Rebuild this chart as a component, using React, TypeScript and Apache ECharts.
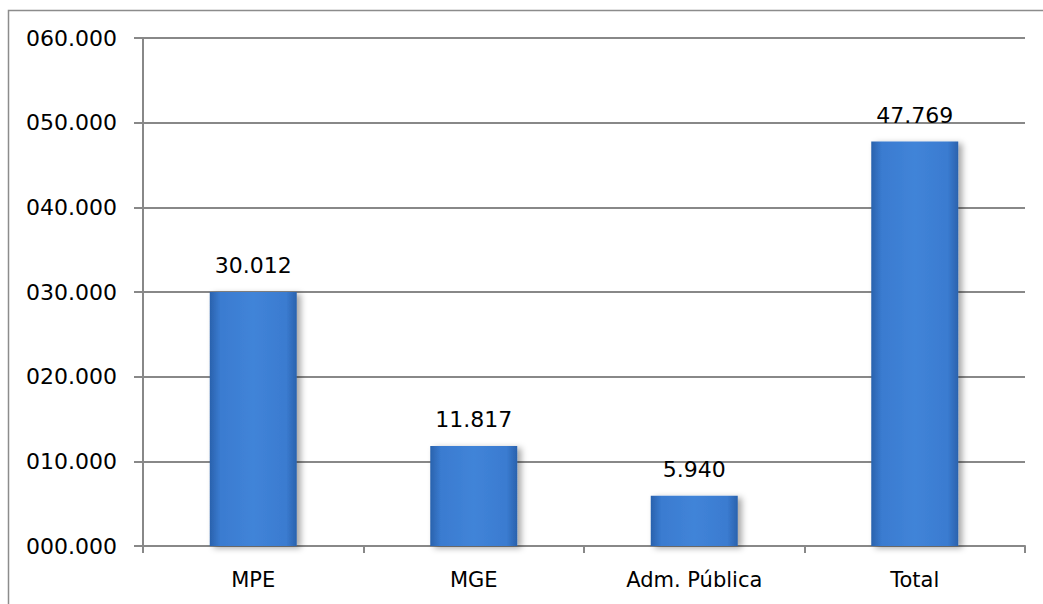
import React, { useEffect, useRef } from "react";
import * as echarts from "echarts";

const categories = ["MPE", "MGE", "Adm. Pública", "Total"];
const values = [30012, 11817, 5940, 47769];
const valueLabels = ["30.012", "11.817", "5.940", "47.769"];
const yTicks = [0, 10000, 20000, 30000, 40000, 50000, 60000];

const FONT = "DejaVu Sans";

export default function App() {
  const ref = useRef<HTMLDivElement>(null);
  useEffect(() => {
    document.body.style.margin = "0";
    const chart = echarts.init(ref.current!, null, { renderer: "svg" });
    chart.setOption({
      animation: false,
      backgroundColor: "#ffffff",
      graphic: [
        {
          type: "rect",
          shape: { x: 8.5, y: 10.5, width: 1100, height: 700 },
          style: { fill: "none", stroke: "#8c8c8c", lineWidth: 1.5 },
          silent: true,
          z: -1,
        },
      ],
      grid: { left: 143, right: 18, top: 38, bottom: 58, containLabel: false },
      xAxis: {
        type: "category",
        data: categories,
        axisLine: { show: true, lineStyle: { color: "#888888", width: 2 } },
        axisTick: { show: true, length: 7, alignWithLabel: false, lineStyle: { color: "#888888", width: 2 } },
        axisLabel: { color: "#000000", fontFamily: FONT, fontSize: 21, margin: 23 },
      },
      yAxis: {
        type: "value",
        min: 0,
        max: 60000,
        interval: 10000,
        axisLine: { show: true, lineStyle: { color: "#888888", width: 2 } },
        axisTick: { show: true, length: 9, lineStyle: { color: "#888888", width: 2 } },
        splitLine: { show: true, lineStyle: { color: "#888888", width: 2 } },
        axisLabel: {
          color: "#000000",
          fontFamily: FONT,
          fontSize: 22,
          margin: 26,
          formatter: (v: number) =>
            yTicks.includes(v) ? String(v / 1000).padStart(3, "0") + ".000" : "",
        },
      },
      series: [
        {
          type: "bar",
          barWidth: 87,
          data: values.map((v, i) => ({
            value: v,
            label: { formatter: valueLabels[i] },
          })),
          itemStyle: {
            color: new echarts.graphic.LinearGradient(0, 0, 1, 0, [
              { offset: 0, color: "#2a62ad" },
              { offset: 0.12, color: "#3a7bd0" },
              { offset: 0.5, color: "#4184d8" },
              { offset: 0.88, color: "#3a7bd0" },
              { offset: 1, color: "#2a62ad" },
            ]),
            shadowColor: "rgba(0,0,0,0.35)",
            shadowBlur: 6,
            shadowOffsetX: 4,
            shadowOffsetY: 2,
          },
          label: {
            show: true,
            position: "top",
            distance: 15,
            color: "#000000",
            fontFamily: FONT,
            fontSize: 22,
          },
        },
      ],
    });
    return () => chart.dispose();
  }, []);
  return <div ref={ref} style={{ width: 1043, height: 604 }} />;
}
